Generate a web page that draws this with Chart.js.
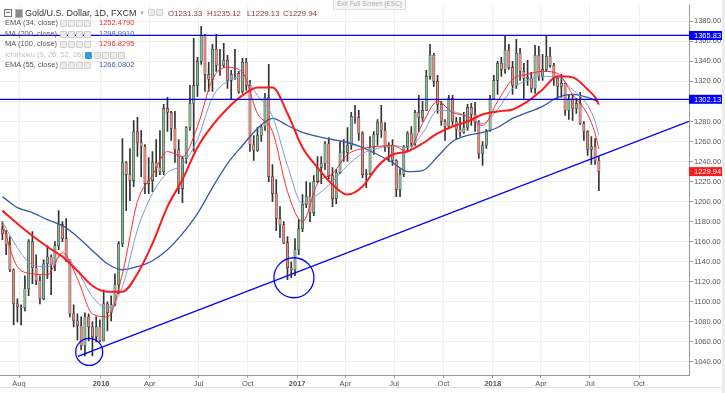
<!DOCTYPE html>
<html>
<head>
<meta charset="utf-8">
<script src="https://cdn.jsdelivr.net/npm/chart.js@4.4.1/dist/chart.umd.min.js"></script>
<style>
  body { margin: 0; background: #fff; }
  #wrap { position: relative; width: 725px; height: 393px; overflow: hidden; font-family: "Liberation Sans", Arial, sans-serif; }
  #wrap canvas { position: absolute; left: 0; top: 0; }
  .t { position: absolute; white-space: nowrap; line-height: 1; }
  .ico { position: absolute; width: 5px; height: 5px; border: 1px solid #cfcfcf; background: #ececec; border-radius: 1px; }
  .lg { font-size: 7.5px; color: #555; }
  .ohlc { font-size: 7.8px; color: #8e3b33; top: 9.5px; }
</style>
</head>
<body>
<div id="wrap">
  <canvas id="c" width="725" height="393"></canvas>

  <div class="t" style="left:333px;top:-1px;border:1px solid #ddd;background:#f7f7f7;color:#aaa;font-size:6.5px;padding:1px 3px;">Exit Full Screen (ESC)</div>

  <div style="position:absolute;left:4px;top:9px;width:6px;height:6px;border:1px solid #777;"></div>
  <div style="position:absolute;left:6px;top:12px;width:4px;height:1px;background:#777;"></div>
  <div style="position:absolute;left:15px;top:9px;width:6px;height:7px;background:#8a8a8a;border:1px solid #bbb;"></div>
  <div class="t" style="left:25px;top:8.5px;font-size:9px;color:#333;">Gold/U.S. Dollar, 1D, FXCM</div>
  <div class="t" style="left:139px;top:10px;font-size:6px;color:#aaa;">▼</div>
  <div class="ico" style="left:148px;top:9px;"></div>
  <div class="ico" style="left:156px;top:9px;"></div>
  <div class="t ohlc" style="left:168px;">O1231.33</div>
  <div class="t ohlc" style="left:207px;">H1235.12</div>
  <div class="t ohlc" style="left:247px;">L1229.13</div>
  <div class="t ohlc" style="left:283px;">C1229.94</div>

  <div class="t lg" style="left:5px;top:19px;">EMA (34, close) <span style="color:#aaa;font-size:5px;">▼</span></div>
  <div class="ico" style="left:60px;top:20px;"></div><div class="ico" style="left:68px;top:20px;"></div><div class="ico" style="left:76px;top:20px;"></div><div class="ico" style="left:84px;top:20px;"></div>
  <div class="t lg" style="left:99px;top:19px;color:#e8312e;">1252.4790</div>

  <div class="t lg" style="left:5px;top:29.5px;">MA (200, close) <span style="color:#aaa;font-size:5px;">▼</span></div>
  <div class="ico" style="left:60px;top:30.5px;"></div><div class="ico" style="left:68px;top:30.5px;"></div><div class="ico" style="left:76px;top:30.5px;"></div><div class="ico" style="left:84px;top:30.5px;"></div>
  <div class="t lg" style="left:99px;top:29.5px;color:#4062b0;">1298.9910</div>

  <div class="t lg" style="left:5px;top:40px;">MA (100, close) <span style="color:#aaa;font-size:5px;">▼</span></div>
  <div class="ico" style="left:60px;top:41px;"></div><div class="ico" style="left:68px;top:41px;"></div><div class="ico" style="left:76px;top:41px;"></div><div class="ico" style="left:84px;top:41px;"></div>
  <div class="t lg" style="left:99px;top:40px;color:#e8312e;">1296.8295</div>

  <div class="t lg" style="left:5px;top:50.5px;color:#c4c4c4;">Ichimoku (9, 26, 52, 26) <span style="font-size:5px;">▼</span></div>
  <div class="ico" style="left:85px;top:51.5px;background:#2f9be0;border-color:#2f9be0;"></div>
  <div class="ico" style="left:94px;top:51.5px;"></div><div class="ico" style="left:102px;top:51.5px;"></div><div class="ico" style="left:110px;top:51.5px;"></div><div class="ico" style="left:118px;top:51.5px;"></div>

  <div class="t lg" style="left:5px;top:61px;">EMA (55, close) <span style="color:#aaa;font-size:5px;">▼</span></div>
  <div class="ico" style="left:60px;top:62px;"></div><div class="ico" style="left:68px;top:62px;"></div><div class="ico" style="left:76px;top:62px;"></div><div class="ico" style="left:84px;top:62px;"></div>
  <div class="t lg" style="left:99px;top:61px;color:#4062b0;">1266.0802</div>

  <div style="position:absolute;left:0;top:387px;width:725px;height:1px;background:#e4e4e4;"></div>
  <div style="position:absolute;left:722px;top:0;width:3px;height:393px;background:#ececec;"></div>
</div>

<script>
// weekly candles, week k is centred on day 7*k (day 0 = 1 Jul 2015)
const opens = [
  1172,1168,1157,1132,1098,1095,1094,1113,1160,1134,
  1121,1103,1138,1145,1137,1156,1177,1163,1142,1088,
  1081,1076,1056,1085,1075,1065,1075,1061,1098,1089,
  1097,1117,1158,1239,1227,1221,1270,1259,1255,1218,
  1221,1239,1234,1230,1293,1289,1273,1252,1213,1243,
  1274,1298,1316,1340,1366,1327,1322,1352,1336,1336,
  1341,1321,1327,1328,1310,1339,1316,1257,1251,1266,
  1275,1304,1225,1208,1183,1177,1159,1134,1132,1152,
  1173,1197,1205,1189,1220,1234,1238,1258,1226,1203,
  1229,1249,1249,1256,1285,1284,1268,1227,1228,1254,
  1267,1279,1271,1254,1256,1241,1212,1227,1255,1268,
  1258,1289,1284,1291,1325,1346,1320,1297,1280,1275,
  1303,1280,1272,1269,1274,1294,1287,1279,1248,1256,
  1271,1303,1321,1338,1332,1351,1334,1316,1348,1330,
  1323,1323,1313,1346,1325,1332,1345,1336,1323,1315,
  1318,1291,1302,1293,1298,1278,1270,1252,1255,1241
];
const highs = [
  1180,1171,1165,1133,1103,1097,1126,1162,1170,1147,
  1126,1142,1156,1147,1160,1191,1180,1183,1142,1097,
  1088,1085,1089,1088,1080,1085,1082,1112,1100,1106,
  1128,1160,1263,1240,1253,1281,1284,1271,1257,1244,
  1250,1262,1271,1297,1304,1290,1290,1262,1245,1275,
  1316,1363,1344,1375,1367,1339,1357,1367,1352,1358,
  1346,1331,1352,1330,1343,1343,1321,1266,1274,1277,
  1308,1337,1237,1222,1195,1180,1165,1140,1163,1182,
  1207,1220,1219,1226,1245,1245,1260,1264,1234,1232,
  1260,1262,1274,1289,1296,1291,1270,1232,1265,1270,
  1282,1296,1279,1259,1262,1242,1233,1256,1270,1275,
  1291,1306,1300,1331,1357,1348,1326,1300,1282,1306,
  1306,1284,1284,1289,1297,1298,1299,1281,1260,1272,
  1306,1326,1340,1344,1366,1357,1340,1362,1353,1338,
  1341,1329,1356,1355,1347,1365,1354,1338,1324,1327,
  1318,1307,1307,1303,1309,1280,1271,1265,1263,1245
];
const lows = [
  1162,1147,1130,1077,1080,1077,1091,1106,1118,1117,
  1098,1102,1123,1107,1131,1152,1160,1140,1085,1075,
  1062,1052,1046,1061,1046,1060,1060,1061,1071,1081,
  1096,1108,1155,1191,1201,1215,1245,1225,1208,1208,
  1210,1225,1227,1227,1270,1261,1239,1208,1199,1238,
  1271,1250,1305,1337,1310,1310,1310,1330,1326,1334,
  1313,1302,1322,1308,1308,1311,1250,1241,1250,1260,
  1271,1220,1200,1171,1164,1158,1122,1124,1126,1147,
  1170,1194,1180,1186,1219,1218,1232,1223,1195,1198,
  1228,1240,1240,1252,1278,1261,1224,1214,1227,1247,
  1256,1264,1250,1240,1236,1205,1205,1225,1250,1255,
  1256,1270,1280,1291,1322,1315,1288,1276,1261,1273,
  1276,1262,1265,1268,1271,1276,1270,1243,1236,1253,
  1270,1302,1307,1325,1328,1332,1307,1313,1321,1303,
  1316,1309,1308,1321,1321,1330,1334,1316,1302,1304,
  1286,1282,1281,1288,1277,1261,1246,1237,1237,1211
];
const closes = [
  1168,1157,1132,1098,1095,1094,1113,1160,1134,1121,
  1103,1138,1145,1137,1156,1177,1163,1142,1088,1081,
  1076,1056,1085,1075,1065,1075,1061,1098,1089,1097,
  1117,1158,1239,1227,1221,1270,1259,1255,1218,1221,
  1239,1234,1230,1293,1289,1273,1252,1213,1243,1274,
  1298,1316,1340,1366,1327,1322,1352,1336,1336,1341,
  1321,1327,1328,1310,1339,1316,1257,1251,1266,1275,
  1304,1225,1208,1183,1177,1159,1134,1132,1152,1173,
  1197,1205,1189,1220,1234,1238,1258,1226,1203,1229,
  1249,1249,1256,1285,1284,1268,1227,1228,1254,1267,
  1279,1271,1254,1256,1241,1212,1227,1255,1268,1258,
  1289,1284,1291,1325,1346,1320,1297,1280,1275,1303,
  1280,1272,1269,1274,1294,1287,1279,1248,1256,1271,
  1303,1321,1338,1332,1351,1334,1316,1348,1330,1323,
  1323,1313,1346,1325,1332,1345,1336,1323,1315,1318,
  1291,1302,1293,1298,1278,1270,1252,1255,1241,1229.94
];

const maWeeks = [0,4,8,12,16,20,24,28,32,36,40,44,48,52,56,60,64,68,72,76,80,84,88,92,96,100,104,108,112,116,120,124,128,132,136,140,144,148,152,156,158,159];
const ema34 = [1178,1135,1128,1127,1149,1123,1088,1085,1128,1200,1226,1250,1245,1275,1322,1334,1329,1288,1270,1210,1180,1218,1228,1247,1253,1255,1256,1250,1278,1300,1289,1285,1276,1300,1322,1327,1330,1328,1307,1287,1268,1252.48];
const ma200 = [1205,1194,1189,1182,1176,1165,1151,1138,1132,1135,1141,1152,1168,1188,1214,1238,1256,1273,1283,1276,1269,1265,1262,1259,1254,1247,1239,1230,1231,1245,1260,1266,1269,1274,1283,1289,1295,1304,1307,1304,1301,1298.99];
const ma100 = [1191,1178,1166,1155,1145,1131,1116,1110,1110,1128,1158,1195,1222,1254,1276,1293,1306,1314,1314,1288,1254,1234,1217,1207,1215,1235,1247,1250,1258,1268,1275,1280,1287,1290,1292,1300,1312,1325,1324,1312,1304,1296.83];
const ema55 = [1180,1154,1137,1135,1146,1131,1105,1094,1115,1172,1208,1229,1237,1262,1304,1320,1324,1306,1285,1236,1198,1207,1220,1236,1248,1253,1256,1254,1268,1291,1290,1285,1278,1292,1313,1321,1325,1324,1312,1296,1280,1266.08];

// drawn objects: horizontal levels, trendline (day, price) and the two circled lows
const levels = [1365.83, 1302.13];
const trendDays = [141, 1281];
const trendPrices = [1045.6, 1280];
const circleDays = [162, 544];
const circlePrices = [1050, 1124];

const tickDays = [31,184,275,366,458,550,640,731,823,915,1005,1096,1188];
const tickLabels = ['Aug','2016','Apr','Jul','Oct','2017','Apr','Jul','Oct','2018','Apr','Jul','Oct'];
const priceTicks = [];
for (let p = 1040; p <= 1380; p += 20) priceTicks.push(p);

const X_MIN = -4.46, X_MAX = 1281.2;
const Y_MIN = 1026.94, Y_MAX = 1395.74;
const FONT = '"Liberation Sans", Arial, sans-serif';
const UP = '#86b894', DOWN = '#ec8b82';

const lastClose = closes[closes.length - 1];
const isUp = i => closes[i] >= opens[i];

const maLine = (vals, color, width) => ({
  type: 'line',
  data: maWeeks.map((k, i) => ({ x: k * 7, y: vals[i] })),
  borderColor: color,
  borderWidth: width,
  pointRadius: 0,
  cubicInterpolationMode: 'monotone',
  order: 3
});

const priceLabels = {
  id: 'priceLabels',
  afterDraw(chart) {
    const { ctx, chartArea } = chart;
    const y = chart.scales.y;
    const items = [[levels[0], '#0000ff'], [levels[1], '#0000ff'], [lastClose, '#ff1a1a']];
    ctx.save();
    ctx.font = '7.5px ' + FONT;
    ctx.textBaseline = 'middle';
    items.forEach(([v, col]) => {
      const py = y.getPixelForValue(v);
      ctx.fillStyle = col;
      ctx.fillRect(chartArea.right, py - 4.5, 33, 9);
      ctx.fillStyle = '#fff';
      ctx.fillText(v.toFixed(2), chartArea.right + 5, py + 0.5);
    });
    ctx.restore();
  }
};

new Chart(document.getElementById('c'), {
  type: 'bar',
  data: {
    datasets: [
      // horizontal levels
      ...levels.map(v => ({
        type: 'line',
        data: [{ x: X_MIN, y: v }, { x: X_MAX, y: v }],
        borderColor: '#0000ff',
        borderWidth: 1.3,
        pointRadius: 0,
        order: 1
      })),
      {
        type: 'line',
        data: trendDays.map((d, i) => ({ x: d, y: trendPrices[i] })),
        borderColor: '#0000ff',
        borderWidth: 1.3,
        pointRadius: 0,
        order: 1
      },
      {
        type: 'line',
        data: circleDays.map((d, i) => ({ x: d, y: circlePrices[i] })),
        showLine: false,
        pointRadius: [13.5, 20],
        pointBorderColor: '#0000ff',
        pointBackgroundColor: 'rgba(0,0,0,0)',
        pointBorderWidth: 1.3,
        order: 1
      },
      maLine(ma100, '#ff1a1a', 2),
      maLine(ema34, '#ff2a2a', 1),
      maLine(ema55, '#7d9bd8', 1),
      maLine(ma200, '#3558a8', 1.3),
      {
        label: 'body',
        data: opens.map((o, i) => ({ x: i * 7, y: [o, closes[i]] })),
        backgroundColor: ctx => isUp(ctx.dataIndex) ? UP : DOWN,
        borderColor: '#3a3a3a',
        borderWidth: 0.6,
        borderSkipped: false,
        barThickness: 2.4,
        minBarLength: 1,
        grouped: false,
        order: 5
      },
      {
        label: 'wick',
        data: lows.map((l, i) => ({ x: i * 7, y: [l, highs[i]] })),
        backgroundColor: '#333',
        borderWidth: 0,
        barThickness: 1,
        grouped: false,
        order: 6
      }
    ]
  },
  options: {
    responsive: false,
    animation: false,
    events: [],
    layout: { padding: 0, autoPadding: false },
    plugins: { legend: { display: false }, tooltip: { enabled: false } },
    scales: {
      x: {
        type: 'linear',
        min: X_MIN,
        max: X_MAX,
        offset: false,
        afterBuildTicks: s => { s.ticks = tickDays.map(v => ({ value: v })); },
        afterFit: s => { s.height = 18; },
        ticks: {
          autoSkip: false,
          maxRotation: 0,
          padding: 1,
          color: '#555',
          font: c => ({ family: FONT, size: 7.5, weight: /^\d{4}$/.test(tickLabels[c.index]) ? 'bold' : 'normal' }),
          callback: (v, i) => tickLabels[i]
        },
        grid: { offset: false, color: '#eeeeee', tickColor: '#999', tickLength: 3 },
        border: { color: '#9a9a9a' }
      },
      y: {
        position: 'right',
        min: Y_MIN,
        max: Y_MAX,
        afterBuildTicks: s => { s.ticks = priceTicks.map(v => ({ value: v })); },
        afterFit: s => { s.width = 36; },
        ticks: {
          padding: 1,
          color: '#555',
          font: { family: FONT, size: 7.5 },
          callback: v => v.toFixed(2)
        },
        grid: { color: '#eeeeee', tickColor: '#999', tickLength: 4 },
        border: { color: '#9a9a9a' }
      }
    }
  },
  plugins: [priceLabels]
});
</script>
</body>
</html>
